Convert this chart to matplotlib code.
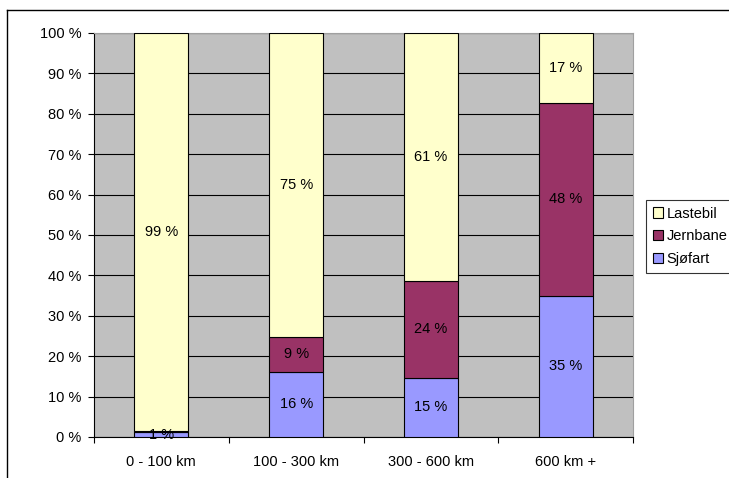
import matplotlib
matplotlib.use("Agg")
import matplotlib.pyplot as plt
from matplotlib.lines import Line2D
from matplotlib.patches import Patch
import numpy as np

plt.rcParams['font.family'] = ['Liberation Sans', 'DejaVu Sans']

categories = ["0 - 100 km", "100 - 300 km", "300 - 600 km", "600 km +"]
sjofart = [1.2, 16.2, 14.7, 35.0]
jernbane = [0.3, 8.6, 23.9, 47.7]
lastebil = [98.5, 75.2, 61.4, 17.3]
labels_sj = ["1 %", "16 %", "15 %", "35 %"]
labels_je = ["", "9 %", "24 %", "48 %"]
labels_la = ["99 %", "75 %", "61 %", "17 %"]
yticks = [0, 10, 20, 30, 40, 50, 60, 70, 80, 90, 100]
ytick_labels = [f"{v} %" for v in yticks]

series = [
    ("Sjøfart", sjofart, "#9999FF", labels_sj),
    ("Jernbane", jernbane, "#993366", labels_je),
    ("Lastebil", lastebil, "#FFFFCC", labels_la),
]

FS = 10.5

fig = plt.figure(figsize=(7.29, 4.78), dpi=100)
ax = fig.add_axes([94/729, 1-437/478, (633-94)/729, (437-33)/478])
ax.set_facecolor("#C0C0C0")

x = np.arange(len(categories))
bottom = np.zeros(len(categories))
handles = []
for name, vals, color, labs in series:
    vals = np.array(vals)
    ax.bar(x, vals, 0.4, bottom=bottom, color=color, edgecolor="black",
           linewidth=0.8, zorder=3)
    for xi, b, v, lab in zip(x, bottom, vals, labs):
        if lab:
            ax.text(xi, b + v/2, lab, ha="center", va="center", fontsize=FS,
                    color="black", zorder=4)
    bottom += vals
    handles.append(Patch(facecolor=color, edgecolor="black", linewidth=0.8, label=name))

ax.set_xlim(-0.5, len(categories) - 0.5)
ax.set_ylim(0, 100)
ax.set_yticks(yticks)
ax.set_yticklabels(ytick_labels, fontsize=FS)
ax.yaxis.grid(True, color="black", linewidth=0.8, zorder=1)
ax.set_axisbelow(True)

ax.set_xticks(x)
ax.set_xticklabels(categories, fontsize=FS)
ax.tick_params(axis="x", which="major", length=0, pad=13)
ax.set_xticks(np.arange(-0.5, len(categories), 1.0), minor=True)
ax.tick_params(axis="x", which="minor", length=4, width=0.8, direction="out")
ax.tick_params(axis="y", length=4, width=0.8, direction="out", pad=5)

for s in ["left", "bottom"]:
    ax.spines[s].set_color("black")
    ax.spines[s].set_linewidth(0.8)
for s in ["top", "right"]:
    ax.spines[s].set_color("#A0A0A0")
    ax.spines[s].set_linewidth(0.8)

leg_handles = handles[::-1]
leg = fig.legend(handles=leg_handles, loc="upper left",
                 bbox_to_anchor=(646/729, 1-200/478), fontsize=FS,
                 frameon=True, fancybox=False, edgecolor="black",
                 handlelength=0.7, handleheight=0.7, handletextpad=0.25,
                 borderpad=0.45, labelspacing=0.6, borderaxespad=0)
leg.get_frame().set_linewidth(0.8)

# outer chart frame
fig.add_artist(Line2D([7/729, 7/729], [0, 1-10/478], color="black", linewidth=1.0,
                      transform=fig.transFigure))
fig.add_artist(Line2D([7/729, 1], [1-10/478, 1-10/478], color="black", linewidth=1.0,
                      transform=fig.transFigure))

fig.savefig("out.png", dpi=100)
